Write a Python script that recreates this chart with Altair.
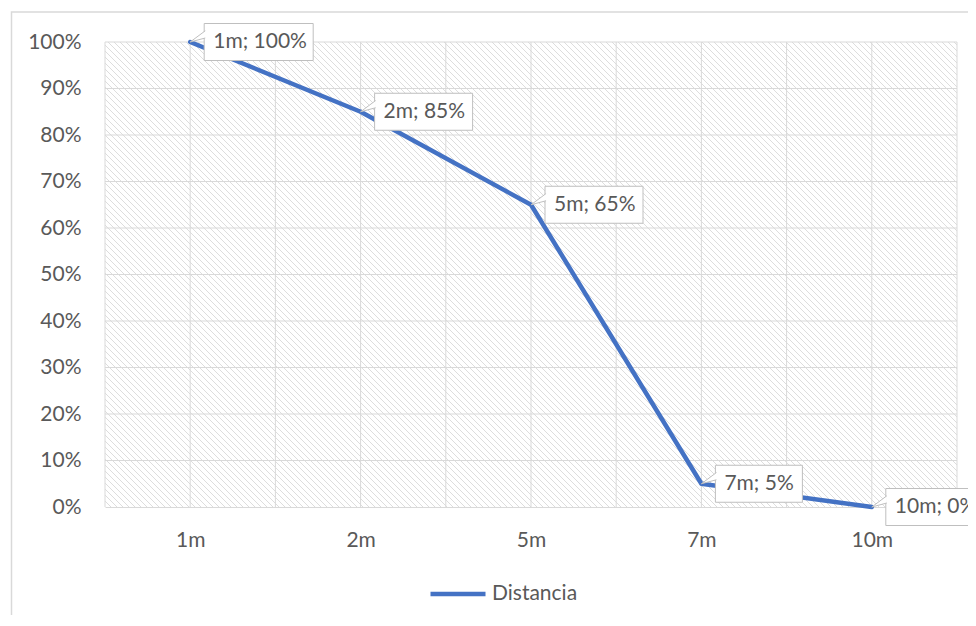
import altair as alt
import pandas as pd

# ---- data ----
categories = ["1m", "2m", "5m", "7m", "10m"]
values = [1.00, 0.85, 0.65, 0.05, 0.00]
labels = ["1m; 100%", "2m; 85%", "5m; 65%", "7m; 5%", "10m; 0%"]
series_name = "Distancia"
y_ticks = [0.0, 0.1, 0.2, 0.3, 0.4, 0.5, 0.6, 0.7, 0.8, 0.9, 1.0]

# ---- styling ----
W, H = 852, 465
FONT = "Lato"
TXT = "#595959"
BLUE = "#4472C4"
GRID = "#d9d9d9"
HATCH = "#dddddd"
BOX = "#bfbfbf"

df = pd.DataFrame({"cat": categories, "val": values, "label": labels,
                   "serie": [series_name] * len(categories)})

# ---------------- background: hatch + gridlines + outer border ----------------
xs = alt.Scale(domain=[0, W], nice=False, zero=False)
ys = alt.Scale(domain=[0, H], nice=False, zero=False)

hatch = (
    alt.Chart(alt.sequence(-H, W + 1, 6, as_="t"))
    .transform_calculate(t2=f"datum.t + {H}", yt=f"{H}", yb="0")
    .mark_rule(color=HATCH, strokeWidth=1, clip=True)
    .encode(
        x=alt.X("t:Q", scale=xs, axis=None),
        x2="t2:Q",
        y=alt.Y("yt:Q", scale=ys, axis=None),
        y2="yb:Q",
    )
)

vgrid = (
    alt.Chart(alt.sequence(0, 11, 1, as_="k"))
    .transform_calculate(gx=f"datum.k * {W} / 10", yt=f"{H}", yb="0")
    .mark_rule(color=GRID, strokeWidth=1)
    .encode(
        x=alt.X("gx:Q", scale=xs, axis=None),
        y=alt.Y("yt:Q", scale=ys, axis=None),
        y2="yb:Q",
    )
)

hgrid = (
    alt.Chart(alt.sequence(1, 11, 1, as_="k"))
    .transform_calculate(gy=f"datum.k * {H} / 10", xl="0", xr=f"{W}")
    .mark_rule(color=GRID, strokeWidth=1)
    .encode(
        y=alt.Y("gy:Q", scale=ys, axis=None),
        x=alt.X("xl:Q", scale=xs, axis=None),
        x2="xr:Q",
    )
)

border = (
    alt.Chart(pd.DataFrame({"b": [0]}))
    .mark_rect(fill="white", fillOpacity=0, stroke=GRID, strokeWidth=1.5)
    .encode(x=alt.value(-93.5), x2=alt.value(W + 80), y=alt.value(-30), y2=alt.value(H + 250))
)

bg = alt.layer(border, hatch, vgrid, hgrid)

# ---------------- main chart ----------------
x_enc = alt.X(
    "cat:N",
    sort=categories,
    scale=alt.Scale(type="point", domain=categories, padding=0.5),
    axis=alt.Axis(title=None, labelFont=FONT, labelFontSize=21, labelColor=TXT,
                  labelPadding=22, ticks=False, domain=True, domainColor=GRID,
                  domainWidth=1, grid=False, labelAngle=0),
)
y_enc = alt.Y(
    "val:Q",
    scale=alt.Scale(domain=[0, 1], nice=False),
    axis=alt.Axis(title=None, values=y_ticks, format=".0%", labelFont=FONT,
                  labelFontSize=21, labelColor=TXT, labelPadding=24,
                  ticks=False, domain=False, grid=False),
)

base = alt.Chart(df).encode(x=x_enc, y=y_enc)

line = base.mark_line(strokeWidth=4.5, strokeCap="round", strokeJoin="round").encode(
    color=alt.Color(
        "serie:N",
        scale=alt.Scale(domain=[series_name], range=[BLUE]),
        legend=alt.Legend(title=None, orient="none", legendX=323, legendY=522,
                          symbolType="stroke", symbolSize=3025, symbolStrokeWidth=4.5,
                          labelFont=FONT, labelFontSize=21, labelColor=TXT,
                          labelOffset=4, padding=0),
    )
)

rects = []
for c, lab in zip(categories, labels):
    w = 11 * len(lab) + 21
    rects.append(
        base.transform_filter(alt.datum.cat == c)
        .mark_rect(width=w, height=37, xOffset=14 + w / 2, fill="white",
                   stroke=BOX, strokeWidth=1)
    )

wedge = base.mark_point(shape="M 0.94 -0.7 L 0 0 L 0.94 -0.25", size=1024,
                        filled=True, fill="white", stroke=BOX, strokeWidth=1,
                        opacity=1, fillOpacity=1, strokeOpacity=1)

text = base.mark_text(align="left", baseline="middle", dx=23, font=FONT,
                      fontSize=21, color=TXT).encode(text="label:N")

main = alt.layer(line, *rects, wedge, text)

chart = (
    alt.layer(bg, main)
    .resolve_scale(x="independent", y="independent")
    .properties(
        width=W,
        height=H,
        autosize=alt.AutoSizeParams(type="none"),
        padding={"left": 97, "top": 34, "right": 11, "bottom": 108},
        background="white",
    )
    .configure_view(stroke=None)
)

chart.save("out.html", embed_options={"renderer": "svg", "actions": False})
